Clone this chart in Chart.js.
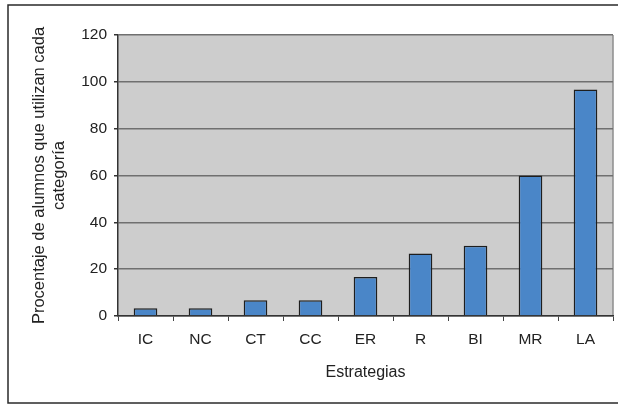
<!DOCTYPE html>
<html>
<head>
<meta charset="utf-8">
<script src="https://cdn.jsdelivr.net/npm/chart.js@4"></script>
<style>
  html, body { margin: 0; padding: 0; background: #ffffff; }
  #wrap { width: 618px; height: 405px; position: relative; }
</style>
</head>
<body>
<div id="wrap"><canvas id="chart"></canvas></div>
<script>
const categories = ['IC', 'NC', 'CT', 'CC', 'ER', 'R', 'BI', 'MR', 'LA'];
const percentages = [3.3, 3.3, 6.7, 6.7, 16.7, 26.7, 30, 60, 96.7];
const yTitle = ['Procentaje de alumnos que utilizan cada', 'categoría'];
const xTitle = 'Estrategias';

const fontFamily = '"Liberation Sans", Arial, sans-serif';

// plot background + outer frame
const framePlugin = {
  id: 'frame',
  beforeDraw(chart) {
    const { ctx, chartArea } = chart;
    ctx.save();
    ctx.fillStyle = '#cdcdcd';
    ctx.fillRect(chartArea.left, chartArea.top, chartArea.right - chartArea.left, chartArea.bottom - chartArea.top);
    ctx.strokeStyle = '#8c8c8c';
    ctx.lineWidth = 1.5;
    ctx.beginPath();
    ctx.moveTo(chartArea.right, chartArea.top);
    ctx.lineTo(chartArea.right, chartArea.bottom);
    ctx.stroke();
    ctx.strokeStyle = '#2a2a2a';
    ctx.lineWidth = 1.5;
    ctx.strokeRect(8, 5, 620, 398);
    ctx.restore();
  }
};

new Chart(document.getElementById('chart'), {
  type: 'bar',
  data: {
    labels: categories,
    datasets: [
      {
        data: percentages,
        backgroundColor: '#4a86c8',
        borderColor: '#1e1e1e',
        borderWidth: 1.5,
        categoryPercentage: 1,
        barPercentage: 0.43,
      },
    ],
  },
  options: {
    responsive: true,
    maintainAspectRatio: false,
    animation: false,
    layout: {
      padding: { top: 35, right: 5, left: 0, bottom: 0 },
    },
    plugins: {
      legend: { display: false },
      tooltip: { enabled: false },
    },
    scales: {
      x: {
        afterFit(scale) { scale.height = 89; },
        grid: {
          offset: true,
          drawOnChartArea: false,
          drawTicks: true,
          tickLength: 5,
          color: '#444',
        },
        border: { color: '#333', width: 1.5 },
        ticks: {
          color: '#222',
          padding: 9,
          font: { family: fontFamily, size: 15.5 },
        },
        title: {
          display: true,
          text: xTitle,
          color: '#222',
          padding: { top: 0, bottom: 23 },
          font: { family: fontFamily, size: 16 },
        },
      },
      y: {
        min: 0,
        max: 120,
        afterFit(scale) { scale.width = 118; },
        ticks: {
          stepSize: 20,
          color: '#222',
          padding: 7,
          font: { family: fontFamily, size: 15.5 },
        },
        grid: {
          color: '#707070',
          lineWidth: 1.5,
          tickLength: 4,
          tickColor: '#333',
        },
        border: { color: '#333', width: 1.5 },
        title: {
          display: true,
          text: yTitle,
          color: '#222',
          padding: { top: 30, bottom: 0 },
          font: { family: fontFamily, size: 16.5, lineHeight: 1.2 },
        },
      },
    },
  },
  plugins: [framePlugin],
});
</script>
</body>
</html>
